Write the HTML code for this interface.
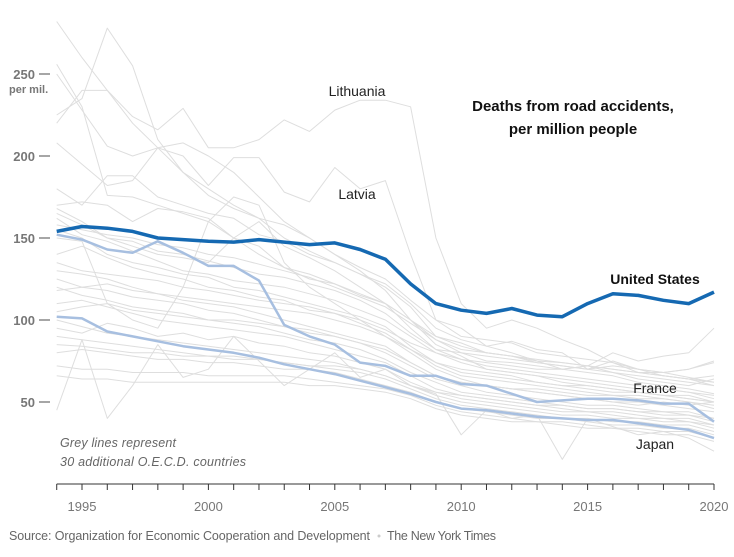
<!DOCTYPE html>
<html><head><meta charset="utf-8"><style>
body{margin:0;background:#fff;width:734px;height:557px;overflow:hidden;font-family:"Liberation Sans",sans-serif}
svg{display:block}
</style></head><body>
<svg id="chart" width="734" height="557" xmlns="http://www.w3.org/2000/svg"></svg>
<script>
const years=[1994,1995,1996,1997,1998,1999,2000,2001,2002,2003,2004,2005,2006,2007,2008,2009,2010,2011,2012,2013,2014,2015,2016,2017,2018,2019,2020];
const usValues=[154,157,156,154,150,149,148,147.5,149,147.5,146,147,143,137,122,110,106,104,107,103,102,110,116,115,112,110,117];
const franceValues=[152,149,143,141,148,141,133,133,124,97,90,85,74,72,66,66,61,60,55,50,51,52,52,51,49,49,38];
const japanValues=[102,101,93,90,87,84,82,80,77,73,70,67,63,59,55,50,46,45,43,41,40,39,39,37,35,33,28];
const lithuaniaValues=[220,240,240,224,216,229,205,205,210,222,215,228,234,234,230,150,110,95,100,95,88,82,74,68,68,65,62];
const latviaValues=[250,228,206,200,205,200,182,199,199,178,172,193,180,185,140,100,95,84,87,82,80,70,75,70,68,70,74];
const greyValues=[
[282,260,240,220,205,190,180,170,162,158,150,140,130,118,100,85,78,70,68,66,62,60,58,56,54,52,50],
[256,230,176,175,170,165,160,150,145,132,125,122,115,110,95,82,80,75,74,72,70,68,66,62,60,58,55],
[225,235,278,255,210,190,176,168,162,150,142,135,128,120,108,90,84,80,78,75,70,72,68,64,62,60,64],
[208,195,182,185,205,208,200,190,175,160,150,140,132,125,112,100,90,88,86,80,78,76,74,70,66,64,66],
[180,170,188,188,175,170,165,162,152,148,140,135,128,122,110,95,88,84,80,75,74,72,70,68,66,64,62],
[170,172,170,160,168,166,162,150,140,132,128,122,116,110,100,90,86,80,78,74,72,70,68,66,64,62,60],
[168,160,150,148,142,140,136,132,128,126,122,118,112,104,92,82,76,72,70,68,66,64,62,60,58,56,54],
[162,152,148,142,136,130,128,124,122,120,116,112,106,100,90,80,74,70,68,66,64,62,60,58,58,56,52],
[155,150,140,135,132,128,126,120,118,114,110,106,102,96,84,74,70,68,66,62,60,58,56,56,54,52,50],
[140,145,138,132,128,125,120,118,114,112,106,104,98,92,82,72,66,64,62,60,58,56,54,54,52,50,46],
[130,128,125,120,116,112,110,108,104,100,96,92,88,84,74,66,62,60,58,56,54,52,50,50,48,46,44],
[125,120,118,114,112,110,106,104,100,96,92,90,86,80,72,64,60,56,54,52,50,48,48,46,44,44,40],
[120,115,112,108,106,104,100,98,96,92,88,86,82,76,68,62,56,54,52,50,48,46,46,44,42,42,38],
[110,112,108,104,100,98,96,94,92,90,86,82,78,74,66,58,54,52,50,48,46,44,44,42,40,40,36],
[100,96,92,90,88,86,84,82,80,78,76,74,70,66,60,54,50,48,46,44,42,42,40,40,38,38,34],
[90,88,86,84,82,80,78,78,76,74,72,70,68,64,58,52,48,46,44,42,40,40,38,38,36,36,32],
[80,82,80,78,76,76,74,74,72,70,70,68,64,60,56,50,46,44,42,40,40,38,36,36,34,34,30],
[72,70,70,68,68,68,66,66,66,66,64,62,60,58,54,48,44,42,40,38,38,36,34,34,32,32,28],
[66,64,64,62,62,62,62,62,62,62,60,60,58,56,52,46,42,40,38,38,36,34,34,32,30,30,26],
[45,88,40,60,85,65,70,90,75,60,70,80,65,70,60,55,30,45,40,42,15,40,35,30,32,28,20],
[150,148,110,100,95,120,160,175,170,135,120,110,100,90,80,70,64,60,58,56,54,52,50,48,50,48,50],
[165,158,150,145,140,138,135,150,160,145,138,130,120,110,100,88,80,78,76,74,72,70,72,70,68,70,75],
[135,130,128,126,124,120,118,115,112,110,108,104,100,94,86,80,76,74,72,70,70,72,80,75,78,80,95],
[158,155,152,150,146,144,140,138,134,130,126,120,114,108,98,88,82,80,78,76,74,72,70,68,66,64,60],
[95,92,98,95,90,92,88,90,86,84,80,78,74,70,62,56,52,50,48,46,44,44,42,40,40,38,36],
[118,120,122,118,116,114,112,110,108,106,104,100,96,90,82,74,68,66,64,62,60,60,58,56,54,54,50],
[105,108,110,106,104,102,100,100,98,96,94,90,86,82,74,66,62,60,58,58,56,54,54,52,52,50,48],
[85,84,82,80,80,78,78,76,76,74,72,72,70,66,60,56,54,52,50,48,48,46,46,44,44,42,40]
];
const yTicks=[50,100,150,200,250];
const xLabels=[1995,2000,2005,2010,2015,2020];
const NS="http://www.w3.org/2000/svg";
const svg=document.getElementById('chart');
const x=y=>82+(y-1995)*25.28;
const yS=v=>484-v*1.64;
function el(t,a,p){const e=document.createElementNS(NS,t);for(const k in a)e.setAttribute(k,a[k]);(p||svg).appendChild(e);return e;}
function txt(s,a){const e=el('text',a);e.textContent=s;return e;}
function line(vals,stroke,w,name){
  const e=el('path',{d:vals.map((v,i)=>(i?'L':'M')+x(years[i]).toFixed(1)+','+yS(v).toFixed(1)).join(''),fill:'none',stroke:stroke,'stroke-width':w,'stroke-linejoin':'round'});
  
  
}
greyValues.forEach((v,i)=>line(v,'#dedede',1,'grey-country-line'));
line(lithuaniaValues,'#dedede',1,'lithuania-line');
line(latviaValues,'#dedede',1,'latvia-line');
line(japanValues,'#a7bfe0',2.5,'japan-line');
line(franceValues,'#a7bfe0',2.5,'france-line');
line(usValues,'#1569b2',3.5,'united-states-line');
yTicks.forEach(t=>{
  const g=txt(t,{x:35,y:yS(t)+5,'text-anchor':'end','font-size':13,fill:'#777','font-weight':'bold'});
  
  
  el('line',{x1:39,x2:50,y1:yS(t),y2:yS(t),stroke:'#777','stroke-width':1.3});
});
txt('per mil.',{x:9,y:93,'font-size':11,fill:'#777','font-weight':'bold'});
const ax=el('line',{x1:x(1994),x2:x(2020),y1:484,y2:484,stroke:'#333','stroke-width':1});


years.forEach(y=>el('line',{x1:x(y),x2:x(y),y1:484,y2:490,stroke:'#333','stroke-width':1}));
xLabels.forEach(y=>{
  const t=txt(y,{x:x(y),y:511,'text-anchor':'middle','font-size':13,fill:'#777'});
  
  
});
const lbl=(s,a,n)=>{const t=txt(s,a);return t;};
lbl('Deaths from road accidents,',{x:573,y:111,'text-anchor':'middle','font-size':15,'font-weight':'bold',fill:'#111'},'chart-title-line1');
lbl('per million people',{x:573,y:134,'text-anchor':'middle','font-size':15,'font-weight':'bold',fill:'#111'},'chart-title-line2');
lbl('Lithuania',{x:357,y:96,'text-anchor':'middle','font-size':14,fill:'#222'},'lithuania-label');
lbl('Latvia',{x:357,y:199,'text-anchor':'middle','font-size':14,fill:'#222'},'latvia-label');
lbl('United States',{x:655,y:284,'text-anchor':'middle','font-size':14,'font-weight':'bold',fill:'#111'},'united-states-label');
lbl('France',{x:655,y:393,'text-anchor':'middle','font-size':14,fill:'#222'},'france-label');
lbl('Japan',{x:655,y:449,'text-anchor':'middle','font-size':14,fill:'#222'},'japan-label');
lbl('Grey lines represent',{x:60,y:447,'font-size':12.5,'font-style':'italic',fill:'#666',textLength:116},'grey-lines-note-1');
lbl('30 additional O.E.C.D. countries',{x:60,y:466,'font-size':12.5,'font-style':'italic',fill:'#666',textLength:186},'grey-lines-note-2');
lbl('Source: Organization for Economic Cooperation and Development',{x:9,y:540,'font-size':12.5,fill:'#666',textLength:361},'source-note');
el('circle',{cx:379,cy:536,r:1.5,fill:'#ccc'});
lbl('The New York Times',{x:387,y:540,'font-size':12.5,fill:'#666',textLength:109},'credit-note');
</script>
</body></html>
